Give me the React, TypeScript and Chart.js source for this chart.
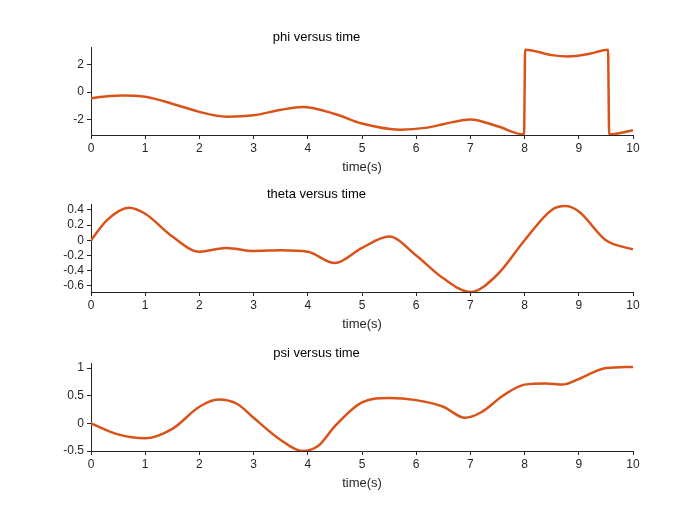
import React, { useEffect, useRef } from "react";
import { Chart, registerables } from "chart.js";
Chart.register(...registerables);

const phiT = [0, 0.3, 0.6, 1, 1.5, 2, 2.5, 3, 3.5, 3.9, 4.5, 5, 5.7, 6.2, 6.5, 7, 7.5, 7.99, 8.0, 8.01, 8.5, 8.8, 9.2, 9.54, 9.55, 9.56, 10];
const phiV = [-0.45, -0.3, -0.25, -0.35, -0.85, -1.45, -1.8, -1.7, -1.3, -1.1, -1.6, -2.3, -2.75, -2.6, -2.35, -2.0, -2.5, -3.1, 0, 3.1, 2.7, 2.6, 2.8, 3.1, 0, -3.1, -2.8];
const thetaT = [0, 0.3, 0.7, 1, 1.5, 2, 2.5, 3, 3.5, 4, 4.5, 5, 5.5, 6, 6.5, 7, 7.5, 8, 8.5, 8.75, 9, 9.5, 10];
const thetaV = [0, 0.27, 0.43, 0.35, 0.05, -0.15, -0.1, -0.14, -0.13, -0.15, -0.3, -0.1, 0.05, -0.2, -0.5, -0.68, -0.45, 0.0, 0.4, 0.45, 0.38, 0.0, -0.12];
const psiT = [0, 0.5, 1, 1.5, 2, 2.35, 2.7, 3, 3.5, 3.9, 4.2, 4.5, 5, 5.5, 6, 6.5, 6.9, 7.2, 7.6, 8, 8.4, 8.7, 9, 9.5, 10];
const psiV = [0, -0.2, -0.27, -0.1, 0.3, 0.43, 0.35, 0.1, -0.3, -0.5, -0.4, -0.05, 0.38, 0.46, 0.42, 0.3, 0.1, 0.2, 0.5, 0.7, 0.72, 0.7, 0.8, 1.0, 1.02];
const xTicks = [0, 1, 2, 3, 4, 5, 6, 7, 8, 9, 10];

type Sub = { title: string; t: number[]; v: number[]; min: number; max: number; ticks: number[]; top: number; tension: number };
const subs: Sub[] = [
  { title: "phi versus time", t: phiT, v: phiV, min: -3.14, max: 3.25, ticks: [-2, 0, 2], top: 0, tension: 0.3 },
  { title: "theta versus time", t: thetaT, v: thetaV, min: -0.68, max: 0.47, ticks: [-0.6, -0.4, -0.2, 0, 0.2, 0.4], top: 157, tension: 0.4 },
  { title: "psi versus time", t: psiT, v: psiV, min: -0.5, max: 1.08, ticks: [-0.5, 0, 0.5, 1], top: 316, tension: 0.4 },
];

const font = { family: "Liberation Sans, Arial, sans-serif", size: 12 };

function Plot({ s }: { s: Sub }) {
  const ref = useRef<HTMLCanvasElement>(null);
  useEffect(() => {
    const data = s.t.map((x, i) => ({ x, y: s.v[i] }));
    const c = new Chart(ref.current!, {
      type: "scatter",
      data: { datasets: [{ data, showLine: true, borderColor: "#D95319", borderWidth: 2.5, pointRadius: 0, tension: s.tension, cubicInterpolationMode: "monotone" } as any] },
      options: {
        animation: false, responsive: false, maintainAspectRatio: false,
        layout: { padding: { left: 0, right: 92, top: 0, bottom: 0 } },
        plugins: {
          legend: { display: false }, tooltip: { enabled: false },
          title: { display: true, text: s.title, color: "#000", font: { ...font, size: 13, weight: "normal" }, padding: { top: 30, bottom: 2 } },
        },
        scales: {
          x: {
            type: "linear", min: 0, max: 10,
            afterBuildTicks: (a: any) => { a.ticks = xTicks.map((value) => ({ value })); },
            afterFit: (a: any) => { a.height = 40; },
            grid: { drawOnChartArea: false, drawTicks: true, tickLength: 4, color: "#262626" },
            border: { color: "#262626" },
            ticks: { color: "#262626", font, padding: 2, maxRotation: 0, callback: (v: any) => String(v) },
            title: { display: true, text: "time(s)", color: "#262626", font: { ...font, size: 13 }, padding: 0 },
          },
          y: {
            min: s.min, max: s.max,
            afterBuildTicks: (a: any) => { a.ticks = s.ticks.map((value) => ({ value })); },
            afterFit: (a: any) => { a.width = 91; },
            grid: { drawOnChartArea: false, drawTicks: true, tickLength: 4, color: "#262626" },
            border: { color: "#262626" },
            ticks: { color: "#262626", font, padding: 3, callback: (v: any) => String(v) },
          },
        },
      } as any,
    });
    return () => c.destroy();
  }, []);
  return <canvas ref={ref} width={725} height={175} style={{ position: "absolute", left: 0, top: s.top, width: 725, height: 175 }} />;
}

export default function App() {
  return (
    <div style={{ position: "absolute", left: 0, top: 0, width: 700, height: 525, background: "#fff", overflow: "hidden" }}>
      {subs.map((s) => <Plot key={s.title} s={s} />)}
    </div>
  );
}
